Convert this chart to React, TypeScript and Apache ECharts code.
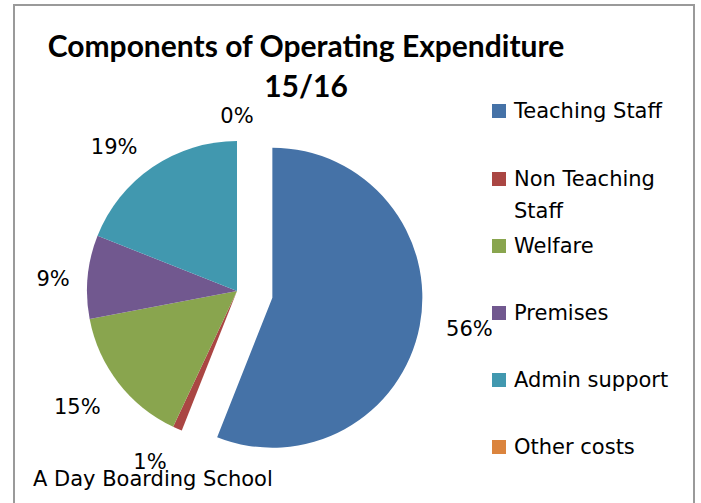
import React, { useEffect, useRef } from "react";
import * as echarts from "echarts";

const categories = ["Teaching Staff", "Non Teaching Staff", "Welfare", "Premises", "Admin support", "Other costs"];
const values = [56, 1, 15, 9, 19, 0];
const colors = ["#4572A7", "#AA4643", "#89A54E", "#71588F", "#4198AF", "#DB843D"];
const legendLabels = ["Teaching Staff", "\nNon Teaching\nStaff", "Welfare", "Premises", "Admin support", "Other costs"];
const titleText = "Components of Operating Expenditure\n15/16";
const noteText = "A Day Boarding School";

const TITLE_FONT = "Lato, 'Open Sans', sans-serif";
const FONT = "'DejaVu Sans', 'Open Sans', sans-serif";
const CX = 237;
const CY = 291;
const R = 150;
const OFFSET = 36;

export default function App() {
  const ref = useRef<HTMLDivElement>(null);
  useEffect(() => {
    if (!ref.current) return;
    const chart = echarts.init(ref.current, undefined, { renderer: "svg" });
    const total = values.reduce((a, b) => a + b, 0);
    const legendTops = [95, 131, 230, 297, 364, 431];
    const option: any = {
      animation: false,
      backgroundColor: "#fff",
      color: colors,
      title: [
        {
          text: titleText,
          left: 306,
          top: 25,
          padding: 0,
          textAlign: "center",
          textStyle: { fontFamily: TITLE_FONT, fontSize: 30, fontWeight: "bold", color: "#000", lineHeight: 40 },
        },
        {
          text: noteText,
          left: 33,
          top: 468,
          padding: 0,
          textStyle: { fontFamily: FONT, fontSize: 21, fontWeight: "normal", color: "#000" },
        },
      ],
      legend: categories.map((c, i) => ({
        data: [c],
        orient: "vertical",
        left: 492,
        top: legendTops[i],
        padding: 0,
        itemWidth: 14,
        itemHeight: 14,
        icon: "rect",
        formatter: () => legendLabels[i],
        textStyle: {
          fontFamily: FONT,
          fontSize: 21,
          color: "#000",
          lineHeight: 32,
          padding: [0, 0, 0, 3],
        },
      })),
      graphic: [
        {
          type: "rect",
          shape: { x: 14, y: 5, width: 680, height: 520 },
          style: { fill: "none", stroke: "#9a9a9a", lineWidth: 2 },
          silent: true,
        },
      ],
      series: [
        {
          type: "pie",
          center: [CX, CY],
          radius: R,
          startAngle: 90,
          clockwise: true,
          selectedMode: "single",
          selectedOffset: OFFSET,
          avoidLabelOverlap: false,
          data: categories.map((c, i) => ({ name: c, value: values[i], selected: i === 0 })),
          itemStyle: { borderWidth: 0 },
          select: { itemStyle: { borderWidth: 0 } },
          emphasis: { disabled: true },
          label: {
            show: true,
            position: "outside",
            formatter: (p: any) => Math.round(p.percent) + "%",
            fontFamily: FONT,
            fontSize: 21,
            color: "#000",
          },
          labelLine: { show: false },
          labelLayout: (params: any) => {
            const idx = params.dataIndex;
            let before = 0;
            for (let k = 0; k < idx; k++) before += values[k];
            const mid = ((before + values[idx] / 2) / total) * Math.PI * 2;
            const dx = Math.sin(mid);
            const dy = -Math.cos(mid);
            let cx = CX;
            let cy = CY;
            if (idx === 0) {
              cx += dx * OFFSET;
              cy += dy * OFFSET;
            }
            const w = params.labelRect.width;
            const h = params.labelRect.height;
            const sx = Math.abs(dx) < 1e-6 ? 0 : Math.sign(dx);
            const ex = cx + dx * R;
            const ey = cy + dy * R;
            return {
              x: ex + dx * 12 + sx * 0.68 * w,
              y: ey + dy * (h / 2 + 20) + 5,
              align: "center",
              verticalAlign: "middle",
            };
          },
        },
      ],
    };
    chart.setOption(option);
    return () => chart.dispose();
  }, []);
  return <div ref={ref} style={{ position: "absolute", left: 0, top: 0, width: 701, height: 503 }} />;
}
